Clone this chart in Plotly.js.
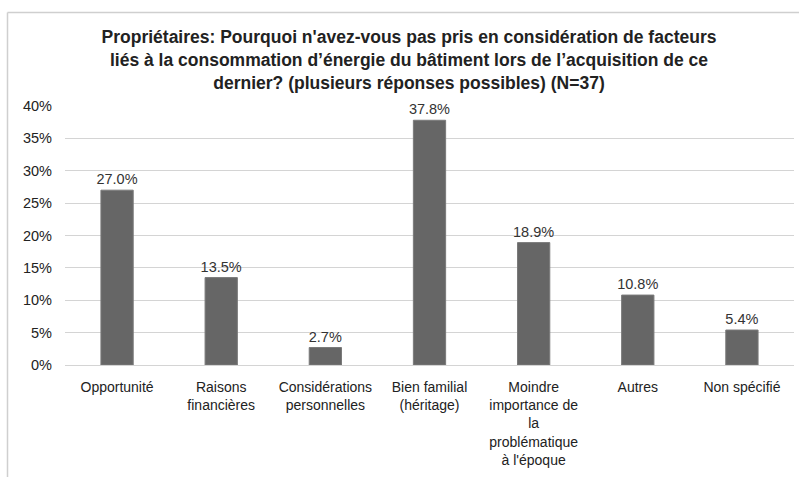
<!DOCTYPE html>
<html>
<head>
<meta charset="utf-8">
<script src="https://cdn.plot.ly/plotly-3.0.1.min.js"></script>
<style>body{margin:0;background:#fff}#chart{width:799px;height:477px}</style>
</head>
<body>
<div id="chart"></div>
<script>
const categories = [
  "Opportunité",
  "Raisons<br>financières",
  "Considérations<br>personnelles",
  "Bien familial<br>(héritage)",
  "Moindre<br>importance de<br>la<br>problématique<br>à l'époque",
  "Autres",
  "Non spécifié"
];
const values = [0.270, 0.135, 0.027, 0.378, 0.189, 0.108, 0.054];
const valueLabels = ["27.0%", "13.5%", "2.7%", "37.8%", "18.9%", "10.8%", "5.4%"];
const titleText = "Propriétaires: Pourquoi n'avez-vous pas pris en considération de facteurs<br>liés à la consommation d’énergie du bâtiment lors de l’acquisition de ce<br>dernier? (plusieurs réponses possibles) (N=37)";

const font = "Liberation Sans, Arial, Helvetica, sans-serif";
const W = 799, H = 477, L = 65, R = 5, T = 106, B = 112;
const pw = W - L - R, ph = H - T - B;
const px = x => (x - L) / pw;
const py = y => (H - B - y) / ph;

Plotly.newPlot("chart", [{
  type: "bar",
  x: categories,
  y: values,
  text: valueLabels,
  textposition: "outside",
  constraintext: "none",
  cliponaxis: false,
  textfont: {family: font, size: 14.5, color: "#333"},
  marker: {color: "#666666", line: {color: "#7a7a7a", width: 1}},
  width: 0.31,
  hoverinfo: "skip"
}], {
  width: W, height: H,
  margin: {l: L, r: R, t: T, b: B},
  paper_bgcolor: "#fff", plot_bgcolor: "#fff",
  showlegend: false,
  title: {text: titleText, x: 409 / W, xanchor: "center", y: 1 - 43 / H, yanchor: "middle",
          font: {family: font, size: 17.5, color: "#222", weight: "bold"}},
  font: {family: font, size: 14, color: "#222"},
  xaxis: {showgrid: false, showline: false, ticks: "", zeroline: false,
          tickfont: {family: font, size: 14, color: "#222"}, tickangle: 0, ticklabelstandoff: 12},
  yaxis: {range: [0, 0.4], dtick: 0.05, tickformat: ".0%", showgrid: true,
          gridcolor: "#d4d4d4", gridwidth: 1, zeroline: true, zerolinecolor: "#d4d4d4",
          showline: false, ticks: "", ticklabelstandoff: 12,
          tickfont: {family: font, size: 14.5, color: "#222"}},
  shapes: [
    {type: "line", xref: "paper", yref: "paper", x0: px(7.5), x1: px(7.5), y0: py(12.5), y1: py(480),
     line: {color: "#cfcfcf", width: 1.5}},
    {type: "line", xref: "paper", yref: "paper", x0: px(7.5), x1: px(805), y0: py(12.5), y1: py(12.5),
     line: {color: "#cfcfcf", width: 1.5}}
  ]
}, {staticPlot: true, displayModeBar: false});
</script>
</body>
</html>
